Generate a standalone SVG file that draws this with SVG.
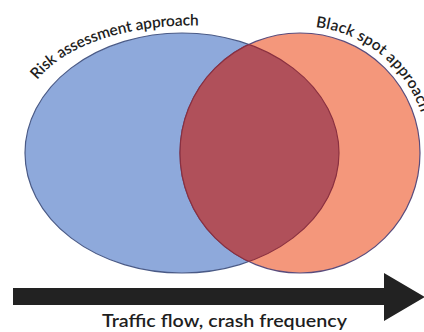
<svg xmlns="http://www.w3.org/2000/svg" xmlns:xlink="http://www.w3.org/1999/xlink" width="424" height="332" viewBox="0 0 424 332">
<style>
.lbl{font-family:Lato,"Open Sans","Liberation Sans",sans-serif;fill:#1e1e1e}
.arc{font-size:15.5px;font-weight:600}
</style>
<defs>
<clipPath id="clipBlue"><ellipse cx="182" cy="153" rx="157" ry="120"/></clipPath>
<clipPath id="clipRed"><circle cx="300" cy="153" r="120"/></clipPath>
<path id="pBlue" d="M 37 80 C 70 40, 140 22, 215 26"/>
<path id="pRed" d="M 315.6 27 A 127 127 0 0 1 427 142"/>
</defs>
<rect width="424" height="332" fill="#ffffff"/>
<g id="risk-assessment">
<ellipse cx="182" cy="153" rx="157" ry="120" fill="#8ea9db" stroke="#4a5a86" stroke-width="1.2"/>
<text class="lbl arc" textLength="176" lengthAdjust="spacing"><textPath xlink:href="#pBlue" href="#pBlue">Risk assessment approach</textPath></text>
</g>
<g id="black-spot">
<circle cx="300" cy="153" r="120" fill="#f4977b" stroke="#5a4c7c" stroke-width="1.2"/>
<text class="lbl arc" textLength="143" lengthAdjust="spacing"><textPath xlink:href="#pRed" href="#pRed">Black spot approach</textPath></text>
</g>
<g id="overlap">
<circle cx="300" cy="153" r="120" fill="#b0505a" stroke="#8a3040" stroke-width="1.2" clip-path="url(#clipBlue)"/>
<ellipse cx="182" cy="153" rx="157" ry="120" fill="none" stroke="#8a3040" stroke-width="1.2" clip-path="url(#clipRed)"/>
</g>
<g id="connectors">
<polygon points="13,288 384,288 384,273 425,297 384,321 384,305 13,305" fill="#222222"/>
</g>
<g id="axis-label">
<text class="lbl" x="102" y="327" font-size="17" font-weight="600" textLength="245" lengthAdjust="spacingAndGlyphs">Traffic flow, crash frequency</text>
</g>
</svg>
